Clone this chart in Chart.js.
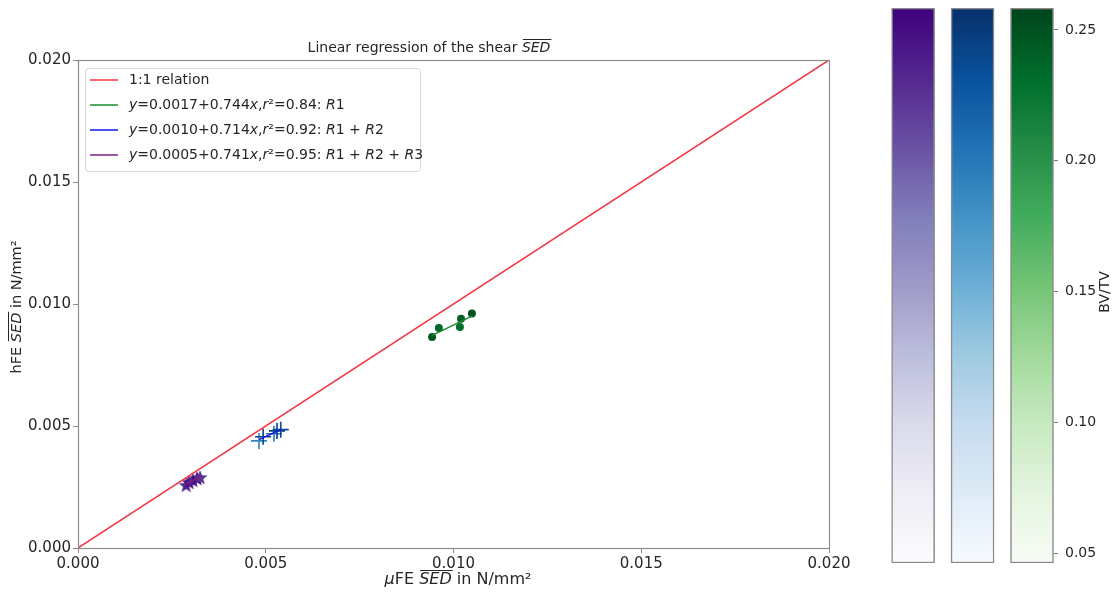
<!DOCTYPE html>
<html>
<head>
<meta charset="utf-8">
<script src="https://cdn.jsdelivr.net/npm/chart.js@4.4.1/dist/chart.umd.min.js"></script>
<style>
  html, body { margin: 0; padding: 0; background: #fff; }
  #wrap { position: relative; width: 1120px; height: 599px; }
  #main { position: absolute; left: 0; top: 0; }
  #cbar { position: absolute; left: 870px; top: 0; }
</style>
</head>
<body>
<div id="wrap">
  <canvas id="main" width="870" height="599"></canvas>
  <canvas id="cbar" width="250" height="599"></canvas>
</div>
<script>
// axis ticks
const axisTicks = [0, 0.005, 0.010, 0.015, 0.020];
const cbarTicks = [0.05, 0.10, 0.15, 0.20, 0.25];
const cbarRange = [0.0462, 0.2584];

// muFE vs hFE mean SED per region group
const r1X = [0.00943, 0.00961, 0.01020, 0.01017, 0.01049];
const r1Y = [0.00865, 0.00902, 0.00940, 0.00906, 0.00961];
const r1BV = [0.245, 0.235, 0.24, 0.23, 0.25];

const r12X = [0.00482, 0.00493, 0.00522, 0.00530, 0.00540];
const r12Y = [0.00439, 0.00456, 0.00468, 0.00480, 0.00485];
const r12BV = [0.19, 0.245, 0.20, 0.25, 0.235];

const r123X = [0.00288, 0.00296, 0.00306, 0.00317, 0.00325];
const r123Y = [0.00255, 0.00267, 0.00275, 0.00283, 0.00287];
const r123BV = [0.23, 0.245, 0.235, 0.25, 0.225];

// regression results
const groupNames = ['R1', 'R1 + R2', 'R1 + R2 + R3'];
const fitIntercept = [0.0017, 0.0010, 0.0005];
const fitSlope = [0.744, 0.714, 0.741];
const fitR2 = [0.84, 0.92, 0.95];

// colormaps (matplotlib Purples / Blues / Greens)
const purples = ['#fcfbfd', '#efedf5', '#dadaeb', '#bcbddc', '#9e9ac8', '#807dba', '#6a51a3', '#54278f', '#3f007d'];
const blues = ['#f7fbff', '#deebf7', '#c6dbef', '#9ecae1', '#6baed6', '#4292c6', '#2171b5', '#08519c', '#08306b'];
const greens = ['#f7fcf5', '#e5f5e0', '#c7e9c0', '#a1d99b', '#74c476', '#41ab5d', '#238b45', '#006d2c', '#00441b'];

const FONT = "'DejaVu Sans', sans-serif";
const INK = '#262626';

function hexRgb(h) {
  return [1, 3, 5].map(i => parseInt(h.slice(i, i + 2), 16));
}

function cmap(stops, v) {
  let t = (v - cbarRange[0]) / (cbarRange[1] - cbarRange[0]);
  t = Math.min(1, Math.max(0, t));
  const p = t * (stops.length - 1);
  const i = Math.min(Math.floor(p), stops.length - 2);
  const f = p - i;
  const a = hexRgb(stops[i]), b = hexRgb(stops[i + 1]);
  const c = a.map((x, k) => Math.round(x + (b[k] - x) * f));
  return `rgb(${c[0]},${c[1]},${c[2]})`;
}

// filled 5-point star, like matplotlib's '*'
function starMarker(color, r) {
  const c = document.createElement('canvas');
  const s = Math.ceil(r * 2 + 2);
  c.width = c.height = s;
  const g = c.getContext('2d');
  g.beginPath();
  for (let k = 0; k < 10; k++) {
    const rad = k % 2 ? r * 0.42 : r;
    const ang = -Math.PI / 2 + k * Math.PI / 5;
    g.lineTo(s / 2 + rad * Math.cos(ang), s / 2 + rad * Math.sin(ang));
  }
  g.closePath();
  g.fillStyle = color;
  g.fill();
  return c;
}

const pts = (xs, ys) => xs.map((x, i) => ({ x, y: ys[i] }));

function fitLine(k, xs) {
  const lo = Math.min(...xs), hi = Math.max(...xs);
  return [lo, hi].map(x => ({ x, y: fitIntercept[k] + fitSlope[k] * x }));
}

function fitLabel(k) {
  return 'y=' + fitIntercept[k].toFixed(4) + '+' + fitSlope[k].toFixed(3) + 'x,r²=' +
    fitR2[k].toFixed(2) + ': ' + groupNames[k];
}

// split text into runs; letters italic when math is true
function mathRuns(text, math) {
  if (!math) return [{ t: text, it: false }];
  const runs = [];
  for (const ch of text) {
    const it = /[a-zA-Z]/.test(ch);
    const last = runs[runs.length - 1];
    if (last && last.it === it) last.t += ch;
    else runs.push({ t: ch, it });
  }
  return runs;
}

function drawRuns(ctx, runs, x, y, size, align) {
  let w = 0;
  const widths = runs.map(r => {
    ctx.font = (r.it ? 'italic ' : '') + size + 'px ' + FONT;
    const m = ctx.measureText(r.t).width;
    w += m;
    return m;
  });
  let cx = align === 'center' ? x - w / 2 : x;
  ctx.textBaseline = 'middle';
  ctx.textAlign = 'left';
  runs.forEach((r, i) => {
    ctx.font = (r.it ? 'italic ' : '') + size + 'px ' + FONT;
    ctx.fillText(r.t, cx, y);
    if (r.over) {
      ctx.beginPath();
      ctx.lineWidth = 1;
      ctx.strokeStyle = ctx.fillStyle;
      const oy = Math.round(y - size * 0.62) + 0.5;
      ctx.moveTo(cx + 1, oy);
      ctx.lineTo(cx + widths[i] + 1, oy);
      ctx.stroke();
    }
    cx += widths[i];
  });
}

const titleRuns = [{ t: 'Linear regression of the shear ', it: false }, { t: 'SED', it: true, over: true }];
const xTitleRuns = [{ t: 'μ', it: true }, { t: 'FE ', it: false }, { t: 'SED', it: true, over: true }, { t: ' in N/mm²', it: false }];
const yTitleRuns = [{ t: 'hFE ', it: false }, { t: 'SED', it: true, over: true }, { t: ' in N/mm²', it: false }];

// frame, title, axis titles and legend
const decorations = {
  id: 'decorations',
  afterDraw(chart) {
    const ctx = chart.ctx;
    const a = chart.chartArea;
    ctx.save();
    ctx.strokeStyle = '#8c8c8c';
    ctx.lineWidth = 1.2;
    ctx.strokeRect(Math.round(a.left) + 0.5, Math.round(a.top) + 0.5,
      Math.round(a.right - a.left), Math.round(a.bottom - a.top));

    ctx.fillStyle = INK;
    drawRuns(ctx, titleRuns, 429, 48, 14, 'center');
    drawRuns(ctx, xTitleRuns, 458, 580, 16, 'center');
    ctx.save();
    ctx.translate(17, 307);
    ctx.rotate(-Math.PI / 2);
    drawRuns(ctx, yTitleRuns, 0, 0, 14.5, 'center');
    ctx.restore();

    // legend
    const items = chart.data.datasets.filter(d => d.inLegend);
    const bx = 85.5, by = 68.5, bw = 335, bh = 103;
    ctx.beginPath();
    ctx.roundRect(bx, by, bw, bh, 3);
    ctx.fillStyle = 'rgba(255,255,255,0.85)';
    ctx.fill();
    ctx.strokeStyle = '#d8d8d8';
    ctx.lineWidth = 1;
    ctx.stroke();
    items.forEach((d, i) => {
      const y = 80 + i * 25;
      ctx.beginPath();
      ctx.strokeStyle = d.borderColor;
      ctx.lineWidth = 1.5;
      ctx.moveTo(90, y);
      ctx.lineTo(118, y);
      ctx.stroke();
      ctx.fillStyle = INK;
      drawRuns(ctx, mathRuns(d.label, d.label.startsWith('y=')), 129, y, 14, 'left');
    });
    ctx.restore();
  }
};

const fitColors = ['#1a8c2a', '#1414e6', '#7e1f86'];

const axisOpts = (fitSize) => ({
  type: 'linear',
  min: 0,
  max: 0.02,
  afterBuildTicks: s => { s.ticks = axisTicks.map(v => ({ value: v })); },
  ticks: {
    callback: v => v.toFixed(3),
    font: { family: FONT, size: 15 },
    color: INK,
    padding: 2,
    autoSkip: false,
    maxRotation: 0
  },
  grid: { drawOnChartArea: false, drawTicks: true, tickLength: 5, color: '#8c8c8c' },
  border: { display: false },
  afterFit: fitSize
});

new Chart(document.getElementById('main'), {
  type: 'scatter',
  data: {
    datasets: [
      { label: '1:1 relation', inLegend: true, data: [{ x: 0, y: 0 }, { x: 0.02, y: 0.02 }],
        showLine: true, borderColor: '#f23845', borderWidth: 1.5, pointRadius: 0 },
      { label: fitLabel(0), inLegend: true, data: fitLine(0, r1X), showLine: true,
        borderColor: fitColors[0], borderWidth: 1.5, pointRadius: 0 },
      { label: fitLabel(1), inLegend: true, data: fitLine(1, r12X), showLine: true,
        borderColor: fitColors[1], borderWidth: 1.5, pointRadius: 0 },
      { label: fitLabel(2), inLegend: true, data: fitLine(2, r123X), showLine: true,
        borderColor: fitColors[2], borderWidth: 1.5, pointRadius: 0 },
      { label: 'R1 points', data: pts(r1X, r1Y), pointStyle: 'circle', pointRadius: 4,
        backgroundColor: r1BV.map(v => cmap(greens, v)), borderColor: r1BV.map(v => cmap(greens, v)), borderWidth: 0 },
      { label: 'R1+R2 points', data: pts(r12X, r12Y), pointStyle: 'cross', pointRadius: 8,
        borderColor: r12BV.map(v => cmap(blues, v)), borderWidth: 1.6 },
      { label: 'R1+R2+R3 points', data: pts(r123X, r123Y),
        pointStyle: r123BV.map(v => starMarker(cmap(purples, v), 8)), pointRadius: 7 }
    ]
  },
  options: {
    responsive: false,
    animation: false,
    events: [],
    layout: { padding: { top: 60, right: 41, left: 0, bottom: 0 } },
    plugins: { legend: { display: false }, tooltip: { enabled: false }, title: { display: false } },
    scales: {
      x: axisOpts(s => { s.height = 51; s.paddingLeft = 0; s.paddingRight = 0; }),
      y: axisOpts(s => { s.width = 78; s.paddingTop = 0; s.paddingBottom = 0; })
    }
  },
  plugins: [decorations]
});

// colour bars for BV/TV, one per group (index 0..2 on a linear x scale)
const cbarMaps = [purples, blues, greens];
const cbarLabel = {
  id: 'cbarLabel',
  afterDraw(chart) {
    const ctx = chart.ctx;
    ctx.save();
    ctx.fillStyle = INK;
    ctx.font = '14px ' + FONT;
    ctx.translate(235, 292);
    ctx.rotate(-Math.PI / 2);
    ctx.textAlign = 'center';
    ctx.textBaseline = 'middle';
    ctx.fillText('BV/TV', 0, 0);
    ctx.restore();
  }
};

new Chart(document.getElementById('cbar'), {
  type: 'bar',
  data: {
    datasets: [{
      data: cbarMaps.map((m, i) => ({ x: i, y: cbarRange })),
      backgroundColor: c => {
        const area = c.chart.chartArea;
        if (!area) return '#fff';
        const grad = c.chart.ctx.createLinearGradient(0, area.bottom, 0, area.top);
        const stops = cbarMaps[c.dataIndex];
        stops.forEach((col, i) => grad.addColorStop(i / (stops.length - 1), col));
        return grad;
      },
      borderColor: '#8a8a8a',
      borderWidth: 1.5,
      borderSkipped: false,
      barThickness: 43
    }]
  },
  options: {
    responsive: false,
    animation: false,
    events: [],
    layout: { padding: { top: 8, bottom: 36, left: 14, right: 0 } },
    plugins: { legend: { display: false }, tooltip: { enabled: false } },
    scales: {
      x: { type: 'linear', display: false, offset: false, bounds: 'ticks', min: -0.49, max: 2.37 },
      y: {
        position: 'right',
        min: cbarRange[0],
        max: cbarRange[1],
        afterBuildTicks: s => { s.ticks = cbarTicks.map(v => ({ value: v })); },
        ticks: { callback: v => v.toFixed(2), font: { family: FONT, size: 14 }, color: INK, padding: 7 },
        grid: { drawOnChartArea: false, drawTicks: true, tickLength: 4, color: '#777' },
        border: { display: false },
        afterFit: s => { s.width = 66; s.paddingTop = 0; s.paddingBottom = 0; }
      }
    }
  },
  plugins: [cbarLabel]
});
</script>
</body>
</html>
